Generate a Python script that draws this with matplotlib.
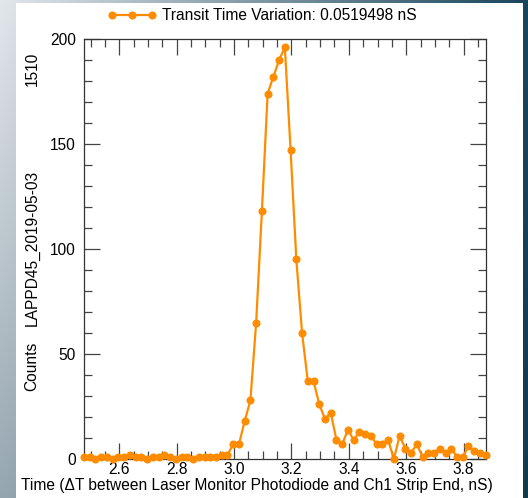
import numpy as np
import matplotlib
matplotlib.use("Agg")
import matplotlib.pyplot as plt
from matplotlib.lines import Line2D
from matplotlib.ticker import MultipleLocator

plt.rcParams['font.family'] = ['Liberation Sans', 'DejaVu Sans']

# ---- data ----
x_start = 2.477
bin_width = 0.02
counts = [1, 1, 0, 1, 1, 0, 1, 1, 2, 1, 1, 0, 1, 1, 2, 1, 0, 1, 1, 0, 1, 1, 1, 1, 2, 2,
          7, 7, 18, 28, 65, 118, 174, 182, 190, 196, 147, 95, 60, 37, 37, 26, 19, 22,
          9, 7, 14, 9, 13, 12, 11, 7, 7, 9, 0, 11, 5, 3, 7, 1, 3, 3, 5, 3, 5, 1, 1,
          6, 4, 3, 2]
x_ticks = [2.6, 2.8, 3.0, 3.2, 3.4, 3.6, 3.8]
y_ticks = [0, 50, 100, 150, 200]
legend_label = "Transit Time Variation: 0.0519498 nS"
xlabel = "Time (\u0394T between Laser Monitor Photodiode and Ch1 Strip End, nS)"
ylabel_parts = ["Counts", "LAPPD45_2019-05-03", "1510"]

x = x_start + bin_width * np.arange(len(counts))

W, H = 528, 498
FS = 11.2
fig = plt.figure(figsize=(W / 100, H / 100), dpi=100)

# background gradient (screenshot frame)
bg = fig.add_axes([0, 0, 1, 1], zorder=-10)
gx, gy = np.meshgrid(np.linspace(0, 1, 200), np.linspace(0, 1, 200))
TL = np.array([226, 231, 235]) / 255
TR = np.array([25, 70, 92]) / 255
BL = np.array([150, 166, 176]) / 255
BR = np.array([20, 58, 78]) / 255
img = ((1 - gx)[..., None] * ((1 - gy)[..., None] * TL + gy[..., None] * BL)
       + gx[..., None] * ((1 - gy)[..., None] * TR + gy[..., None] * BR))
bg.imshow(img, extent=[0, 1, 0, 1], aspect='auto', origin='upper')
bg.add_patch(plt.Rectangle((16 / W, 0), (523 - 16) / W, (H - 3) / H,
                           facecolor='white', edgecolor='none'))
bg.set_xlim(0, 1)
bg.set_ylim(0, 1)
bg.axis('off')

ax = fig.add_axes([84 / W, (H - 459) / H, (485.7 - 84) / W, (459 - 39) / H])
ax.set_facecolor('none')
orange = '#ff8c00'
ax.plot(x, counts, color=orange, lw=1.6, marker='o', ms=4.8, clip_on=False, zorder=3)

ax.set_xlim(x[0], x[-1])
ax.set_ylim(0, 200)
ax.set_xticks(x_ticks)
ax.set_xticklabels([f"{v:.1f}" for v in x_ticks])
ax.set_yticks(y_ticks)
ax.xaxis.set_minor_locator(MultipleLocator(0.05))
ax.yaxis.set_minor_locator(MultipleLocator(10))
ax.tick_params(which='both', direction='in', top=True, right=True, color='#444444', width=0.9,
               labelsize=FS, labelcolor='black')
ax.tick_params(which='major', length=11.5)
ax.tick_params(which='minor', length=5.5)
ax.tick_params(axis='y', pad=6)
ax.tick_params(axis='x', pad=2.5)
for s in ax.spines.values():
    s.set_color('#333333')
    s.set_linewidth(0.9)

# x label
fig.text(257 / W, 1 - 485 / H, xlabel, ha='center', va='center', fontsize=FS)
# y label parts
fig.text(32 / W, 1 - 366 / H, ylabel_parts[0], rotation=90, ha='center', va='center', fontsize=FS)
fig.text(32 / W, 1 - 248 / H, ylabel_parts[1], rotation=90, ha='center', va='center', fontsize=FS)
fig.text(32 / W, 1 - 69 / H, ylabel_parts[2], rotation=90, ha='center', va='center', fontsize=FS)

# legend
ly = 1 - 15 / H
fig.add_artist(Line2D([112 / W, 132 / W, 152 / W], [ly, ly, ly], color=orange, lw=1.6,
                      marker='o', ms=4.8, transform=fig.transFigure))
fig.text(162 / W, ly, legend_label, ha='left', va='center', fontsize=FS)

fig.savefig('out.png', dpi=100)
